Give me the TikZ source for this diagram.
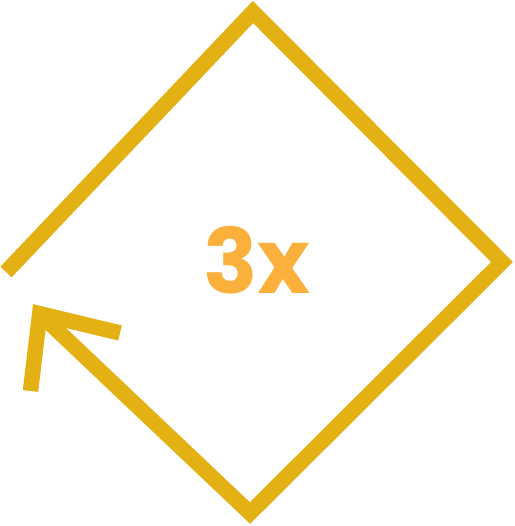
\documentclass[tikz,border=0pt]{standalone}
\usepackage{fontspec}
\newfontfamily\popfont{Poppins}
\definecolor{gold}{HTML}{E3B114}
\definecolor{orng}{HTML}{FBB03B}
\begin{document}
\begin{tikzpicture}[x=1pt,y=-1pt,
  stroke/.style={draw=gold,line width=15.5pt,line join=miter,miter limit=10,line cap=butt}]
\useasboundingbox (0,0) rectangle (514,526);
\coordinate (e) at (6,272);
\coordinate (t) at (253,12);
\coordinate (r) at (502,262);
\coordinate (b) at (250,513);
\coordinate (tip) at (39.7,313.7);
\coordinate (al) at (30.5,391);
\coordinate (ar) at (120,333);
\draw[stroke] (e) -- (t) -- (r) -- (b) -- (tip);
\draw[stroke] (al) -- (tip) -- (ar);
\node[anchor=base,text=orng,inner sep=0pt,font=\popfont\bfseries\fontsize{90}{90}\selectfont] (lbl) at (257,293) {3x};
\end{tikzpicture}
\end{document}
